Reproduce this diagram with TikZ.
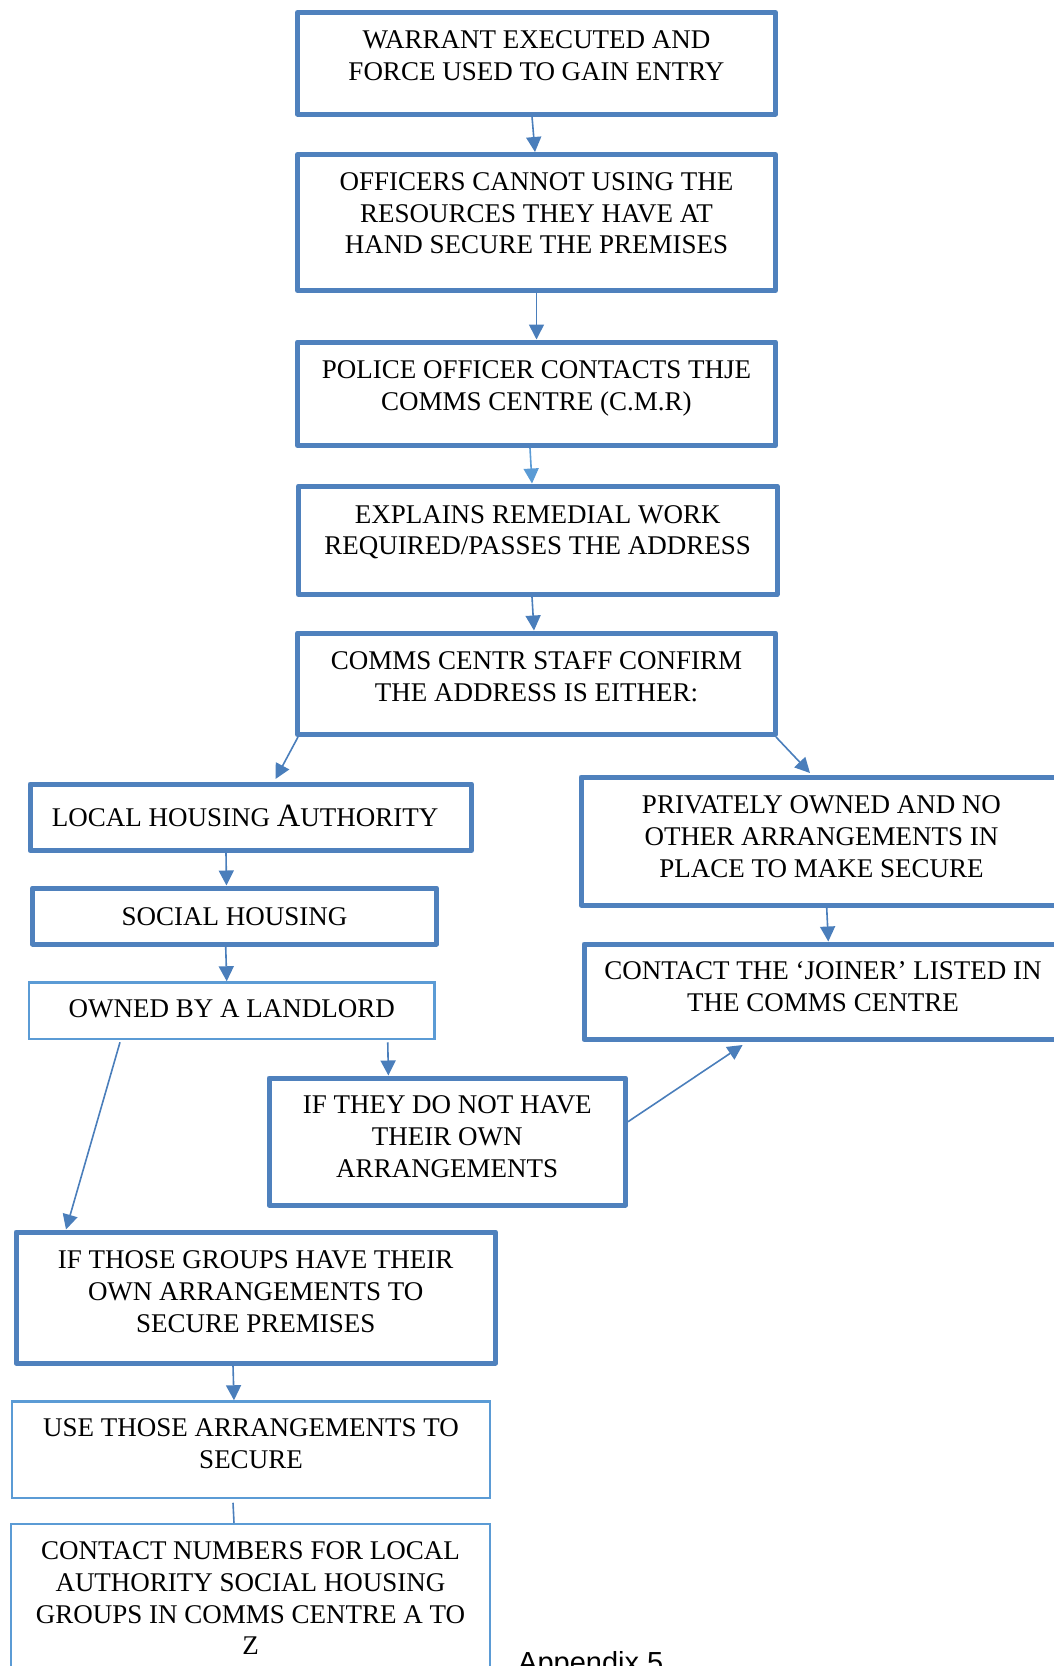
\documentclass[tikz,border=0pt]{standalone}
\usepackage{fontspec}
\setmainfont{Liberation Serif}
\newfontfamily\arialfont{Liberation Sans}
\usetikzlibrary{arrows.meta}
\definecolor{boxblue}{HTML}{4F81BD}
\definecolor{thinblue}{HTML}{5B9BD5}
\definecolor{arrblue}{HTML}{4A7EBB}
\definecolor{lightarr}{HTML}{5B9BD5}
\newcommand\mkbox[6]{\node[#2, minimum width={(#5-#3)*1pt}, minimum height={(#6-#4)*1pt}] (#1) at ({(#3+#5)/2},{(#4+#6)/2}) {};}
\tikzset{
  thickbox/.style={draw=boxblue, line width=5pt, inner sep=0pt, line join=round},
  thinbox/.style={draw=thinblue, line width=2.5pt, inner sep=0pt},
  txt/.style={font=\fontsize{27}{31.7}\selectfont, align=center, inner sep=0pt, anchor=north},
  conn/.style={draw=arrblue, line width=1.6pt, -{Triangle[length=15pt,width=15pt]}},
  lightconn/.style={conn, draw=lightarr},
  plainconn/.style={draw=arrblue, line width=1.6pt}
}
\begin{document}
\begin{tikzpicture}[x=1pt, y=-1pt]
\useasboundingbox (0,0) rectangle (1054,1666);
% boxes
\mkbox{b1}{thickbox}{297.5}{12.5}{775.5}{114}
\mkbox{b2}{thickbox}{297.5}{154.5}{775.5}{290.5}
\mkbox{b3}{thickbox}{297.5}{342}{775.5}{445.5}
\mkbox{b4}{thickbox}{298.5}{486}{777}{594.5}
\mkbox{b5}{thickbox}{297.5}{633}{775.5}{734.5}
\mkbox{loc}{thickbox}{30}{784}{471.5}{850.5}
\mkbox{soc}{thickbox}{32.5}{888}{436.5}{944}
\mkbox{own}{thinbox}{29}{982.5}{434.5}{1039}
\mkbox{they}{thickbox}{269}{1078}{625.5}{1205}
\mkbox{priv}{thickbox}{581}{777}{1062}{905}
\mkbox{join}{thickbox}{584}{944}{1062}{1039.5}
\mkbox{those}{thickbox}{16}{1232}{495.5}{1363}
\mkbox{use}{thinbox}{12}{1401.5}{490}{1498}
\mkbox{cnum}{thinbox}{11}{1524}{490}{1710}
% texts
\node[txt] (t1) at ([yshift=-20.6pt]b1.north) {WARRANT EXECUTED AND\\FORCE USED TO GAIN ENTRY};
\node[txt] (t2) at ([yshift=-20.3pt]b2.north) {OFFICERS CANNOT USING THE\\RESOURCES THEY HAVE AT\\HAND SECURE THE PREMISES};
\node[txt] (t3) at ([yshift=-21.1pt]b3.north) {POLICE OFFICER CONTACTS THJE\\COMMS CENTRE (C.M.R)};
\node[txt] (t4) at ([yshift=-21.5pt]b4.north) {EXPLAINS REMEDIAL WORK\\REQUIRED/PASSES THE ADDRESS};
\node[txt] (t5) at ([yshift=-21.1pt]b5.north) {COMMS CENTR STAFF CONFIRM\\THE ADDRESS IS EITHER:};
\node[txt, anchor=base west] (tloc) at ([xshift=24.2pt,yshift=-45.2pt]loc.north west) {LOCAL HOUSING {\fontsize{32.5}{32.5}\selectfont A}UTHORITY};
\node[txt] (tsoc) at ([yshift=-21.8pt]soc.north) {SOCIAL HOUSING};
\node[txt] (town) at ([yshift=-18.55pt]own.north) {OWNED BY A LANDLORD};
\node[txt] (tthey) at ([yshift=-20.1pt]they.north) {IF THEY DO NOT HAVE\\THEIR OWN\\ARRANGEMENTS};
\node[txt] (tpriv) at ([yshift=-21.1pt]priv.north) {PRIVATELY OWNED AND NO\\OTHER ARRANGEMENTS IN\\PLACE TO MAKE SECURE};
\node[txt] (tjoin) at ([yshift=-20.1pt]join.north) {CONTACT THE ‘JOINER’ LISTED IN\\THE COMMS CENTRE};
\node[txt] (tthose) at ([yshift=-21.1pt]those.north) {IF THOSE GROUPS HAVE THEIR\\OWN ARRANGEMENTS TO\\SECURE PREMISES};
\node[txt] (tuse) at ([yshift=-18.05pt]use.north) {USE THOSE ARRANGEMENTS TO\\SECURE};
\node[txt] (tcnum) at ([yshift=-18.85pt]cnum.north) {CONTACT NUMBERS FOR LOCAL\\AUTHORITY SOCIAL HOUSING\\GROUPS IN COMMS CENTRE A TO\\Z};
\node[anchor=base west, inner sep=0pt, font=\arialfont\fontsize{29}{33}\selectfont] (app) at (518,1672.5) {Appendix 5};
% connectors
\draw[conn] ([xshift=-4.5pt]b1.south) -- ([xshift=-1.5pt]b2.north);
\draw[conn] (b2.south) -- (b3.north);
\draw[lightconn] ([xshift=-6.5pt]b3.south) -- ([xshift=-5.75pt]b4.north);
\draw[conn] ([xshift=-5.75pt]b4.south) -- ([xshift=-2.5pt]b5.north);
\draw[conn] ([xshift=3pt]b5.south west) -- ([xshift=24.75pt,yshift=2.5pt]loc.north);
\draw[conn] ([xshift=-2pt]b5.south east) -- ([xshift=-11.5pt,yshift=1.5pt]priv.north);
\draw[conn] ([xshift=-24.75pt]loc.south) -- ([xshift=-8pt]soc.north);
\draw[conn] ([xshift=-8.8pt]soc.south) -- ([xshift=-5pt]own.north);
\draw[conn] ([xshift=156pt,yshift=-2pt]own.south) -- ([xshift=-58.85pt]they.north);
\draw[conn] ([xshift=-111.75pt,yshift=-2pt]own.south) -- ([xshift=-189.75pt]those.north);
\draw[conn] ([xshift=5.2pt]priv.south) -- ([xshift=5.3pt]join.north);
\draw[conn] ([yshift=19.8pt]they.east) -- ([xshift=-80.4pt,yshift=-3pt]join.south);
\draw[conn] ([xshift=-22.75pt]those.south) -- ([xshift=-17pt]use.north);
\draw[plainconn] ([xshift=-18pt,yshift=-3.5pt]use.south) -- ([xshift=-16.5pt]cnum.north);
\end{tikzpicture}
\end{document}
